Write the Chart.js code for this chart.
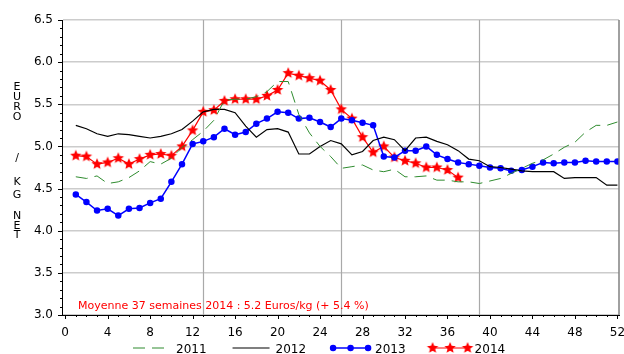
<!DOCTYPE html>
<html>
<head>
<meta charset="utf-8">
<script src="https://cdn.jsdelivr.net/npm/chart.js@4.4.1/dist/chart.umd.min.js"></script>
<style>
  body { margin: 0; background: #fff; }
  canvas { display: block; }
</style>
</head>
<body>
<canvas id="priceChart" width="624" height="354"></canvas>
<script>
// weekly prices, euro / kg net
const weeks = [1, 2, 3, 4, 5, 6, 7, 8, 9, 10, 11, 12, 13, 14, 15, 16, 17, 18, 19, 20,
  21, 22, 23, 24, 25, 26, 27, 28, 29, 30, 31, 32, 33, 34, 35, 36, 37, 38, 39, 40,
  41, 42, 43, 44, 45, 46, 47, 48, 49, 50, 51, 52];

const price2011 = [4.64, 4.62, 4.65, 4.56, 4.58, 4.63, 4.71, 4.82, 4.79, 4.86,
  4.99, 5.08, 5.18, 5.31, 5.55, 5.56, 5.56, 5.59, 5.65, 5.77,
  5.77, 5.38, 5.16, 5.00, 4.88, 4.74, 4.76, 4.78, 4.72, 4.70,
  4.73, 4.64, 4.64, 4.65, 4.60, 4.60, 4.58, 4.58, 4.56, 4.59,
  4.62, 4.68, 4.74, 4.80, 4.84, 4.91, 4.99, 5.05, 5.17, 5.25, 5.25, 5.29];

const price2012 = [5.25, 5.21, 5.15, 5.12, 5.15, 5.14, 5.12, 5.10, 5.12, 5.15,
  5.20, 5.30, 5.41, 5.44, 5.44, 5.40, 5.24, 5.11, 5.20, 5.21,
  5.17, 4.91, 4.91, 5.00, 5.07, 5.03, 4.90, 4.94, 5.07, 5.11,
  5.08, 4.95, 5.10, 5.11, 5.06, 5.02, 4.95, 4.85, 4.83, 4.76,
  4.75, 4.73, 4.71, 4.70, 4.70, 4.70, 4.62, 4.63, 4.63, 4.63, 4.54, 4.54];

const price2013 = [4.43, 4.34, 4.24, 4.26, 4.18, 4.26, 4.27, 4.33, 4.38, 4.58,
  4.79, 5.03, 5.06, 5.11, 5.21, 5.14, 5.17, 5.27, 5.33, 5.41,
  5.40, 5.33, 5.34, 5.29, 5.23, 5.33, 5.31, 5.28, 5.25, 4.88,
  4.87, 4.95, 4.95, 5.00, 4.90, 4.85, 4.81, 4.79, 4.77, 4.75,
  4.74, 4.71, 4.72, 4.76, 4.81, 4.80, 4.81, 4.81, 4.83, 4.82, 4.82, 4.82];

const price2014 = [4.89, 4.88, 4.79, 4.81, 4.86, 4.79, 4.85, 4.90, 4.91, 4.89,
  5.00, 5.19, 5.41, 5.43, 5.54, 5.56, 5.56, 5.56, 5.60, 5.67,
  5.87, 5.84, 5.81, 5.78, 5.67, 5.44, 5.33, 5.11, 4.93, 5.00,
  4.87, 4.83, 4.80, 4.75, 4.75, 4.72, 4.63];

const yearLabels = ['2011', '2012', '2013', '2014'];
const xTickValues = [0, 4, 8, 12, 16, 20, 24, 28, 32, 36, 40, 44, 48, 52];
const yTickValues = [3.0, 3.5, 4.0, 4.5, 5.0, 5.5, 6.0, 6.5];
const quarterWeeks = [13, 26, 39];
const avgNote = 'Moyenne 37 semaines 2014 : 5.2 Euros/kg (+ 5.4 %)';
const axisTitle = ['E', 'U', 'R', 'O', '/', 'K', 'G', 'N', 'E', 'T'];

const FONT = 'DejaVu Sans';

function toPoints(values) {
  return values.map((v, i) => ({ x: weeks[i], y: v }));
}

// filled five-point star used as marker for 2014
function makeStar(r, color) {
  const c = document.createElement('canvas');
  const size = Math.ceil(r * 2) + 2;
  c.width = c.height = size;
  const g = c.getContext('2d');
  g.translate(size / 2, size / 2);
  g.beginPath();
  for (let i = 0; i < 10; i++) {
    const rad = i % 2 ? r * 0.45 : r;
    const a = -Math.PI / 2 + i * Math.PI / 5;
    g.lineTo(rad * Math.cos(a), rad * Math.sin(a));
  }
  g.closePath();
  g.fillStyle = color;
  g.fill();
  return c;
}
const redStar = makeStar(6, '#ff0000');

// keep the plot box fixed, no extra room for overflowing tick labels
function fixedBox(size) {
  return s => {
    if (s.isHorizontal()) s.height = size; else s.width = size;
    s.paddingLeft = s.paddingRight = s.paddingTop = s.paddingBottom = 0;
  };
}

const decorations = {
  id: 'decorations',
  beforeDatasetsDraw(chart) {
    const { ctx, chartArea: a, scales: { x } } = chart;
    ctx.save();
    ctx.strokeStyle = '#a9a9a9';
    ctx.lineWidth = 1.2;
    quarterWeeks.forEach(w => {
      const px = Math.round(x.getPixelForValue(w)) + 0.5;
      ctx.beginPath();
      ctx.moveTo(px, a.top);
      ctx.lineTo(px, a.bottom);
      ctx.stroke();
    });
    ctx.restore();
  },
  afterDraw(chart) {
    const { ctx, chartArea: a, scales: { x, y } } = chart;
    ctx.save();

    // right edge of the frame
    ctx.strokeStyle = '#808080';
    ctx.lineWidth = 1.5;
    ctx.beginPath();
    ctx.moveTo(a.right, a.top);
    ctx.lineTo(a.right, a.bottom);
    ctx.stroke();

    // tick marks: weeks along the bottom, tenths on the left
    ctx.strokeStyle = '#000';
    ctx.lineWidth = 1;
    ctx.beginPath();
    for (let w = 0; w <= 52; w++) {
      const px = Math.round(x.getPixelForValue(w)) + 0.5;
      const len = w % 4 === 0 ? 4 : 2;
      ctx.moveTo(px, a.bottom);
      ctx.lineTo(px, a.bottom + len);
    }
    for (let t = 30; t <= 65; t++) {
      const py = Math.round(y.getPixelForValue(t / 10)) + 0.5;
      const len = t % 5 === 0 ? 4 : 2;
      ctx.moveTo(a.left, py);
      ctx.lineTo(a.left - len, py);
    }
    ctx.stroke();

    // stacked axis title
    const titleY = [87, 97, 107, 117, 158, 182, 195, 216, 226, 235];
    ctx.fillStyle = '#000';
    ctx.font = '11px "' + FONT + '"';
    ctx.textAlign = 'center';
    ctx.textBaseline = 'middle';
    axisTitle.forEach((ch, i) => ctx.fillText(ch, 17, titleY[i]));

    // average note
    ctx.fillStyle = '#ff0000';
    ctx.textAlign = 'left';
    ctx.font = '11px "' + FONT + '"';
    ctx.fillText(avgNote, 78, 306);

    // legend row
    let lx = 133;
    const ly = 348;
    ctx.font = '12px "' + FONT + '"';
    chart.data.datasets.forEach(ds => {
      ctx.strokeStyle = ds.borderColor;
      ctx.fillStyle = ds.borderColor;
      ctx.lineWidth = ds.borderWidth;
      ctx.setLineDash(ds.borderDash || []);
      ctx.beginPath();
      ctx.moveTo(lx, ly);
      ctx.lineTo(lx + 37, ly);
      ctx.stroke();
      ctx.setLineDash([]);
      if (ds.pointRadius > 0) {
        [1, 18.5, 36].forEach(dx => {
          Chart.helpers.drawPoint(ctx, {
            pointStyle: ds.pointStyle, radius: ds.pointRadius, rotation: 0, borderWidth: 1
          }, lx + dx, ly);
        });
      }
      ctx.fillStyle = '#000';
      ctx.fillText(ds.label, lx + 43, ly + 2);
      lx += 43 + ctx.measureText(ds.label).width + 26;
    });
    ctx.restore();
  }
};

new Chart(document.getElementById('priceChart'), {
  type: 'line',
  data: {
    datasets: [
      {
        label: yearLabels[0],
        data: toPoints(price2011),
        borderColor: '#2e8b2e',
        borderWidth: 1,
        borderDash: [12, 7],
        pointRadius: 0,
        tension: 0
      },
      {
        label: yearLabels[1],
        data: toPoints(price2012),
        borderColor: '#000000',
        borderWidth: 1.2,
        pointRadius: 0,
        tension: 0
      },
      {
        label: yearLabels[2],
        data: toPoints(price2013),
        borderColor: '#0000ff',
        backgroundColor: '#0000ff',
        borderWidth: 1.5,
        pointRadius: 2.5,
        pointStyle: 'circle',
        tension: 0
      },
      {
        label: yearLabels[3],
        data: toPoints(price2014),
        borderColor: '#ff0000',
        backgroundColor: '#ff0000',
        borderWidth: 1.2,
        pointRadius: 6,
        pointStyle: redStar,
        tension: 0
      }
    ]
  },
  options: {
    responsive: false,
    animation: false,
    layout: { autoPadding: false, padding: { top: 20, right: 5, left: 0, bottom: 0 } },
    plugins: { legend: { display: false }, tooltip: { enabled: false } },
    scales: {
      x: {
        type: 'linear',
        min: -0.3,
        max: 52.15,
        afterBuildTicks: s => { s.ticks = xTickValues.map(v => ({ value: v })); },
        afterFit: fixedBox(39),
        grid: { display: false, drawTicks: false },
        border: { display: true, color: '#000', width: 1 },
        ticks: {
          padding: 11, color: '#000', maxRotation: 0, autoSkip: false,
          font: { family: FONT, size: 12 }
        }
      },
      y: {
        min: 3.0,
        max: 6.5,
        afterBuildTicks: s => { s.ticks = yTickValues.map(v => ({ value: v })); },
        afterFit: fixedBox(62),
        grid: { color: '#cccccc', lineWidth: 1.5, drawTicks: false },
        border: { display: true, color: '#000', width: 1 },
        ticks: {
          padding: 9, color: '#000',
          font: { family: FONT, size: 12 },
          callback: v => v.toFixed(1)
        }
      }
    }
  },
  plugins: [decorations]
});
</script>
</body>
</html>
